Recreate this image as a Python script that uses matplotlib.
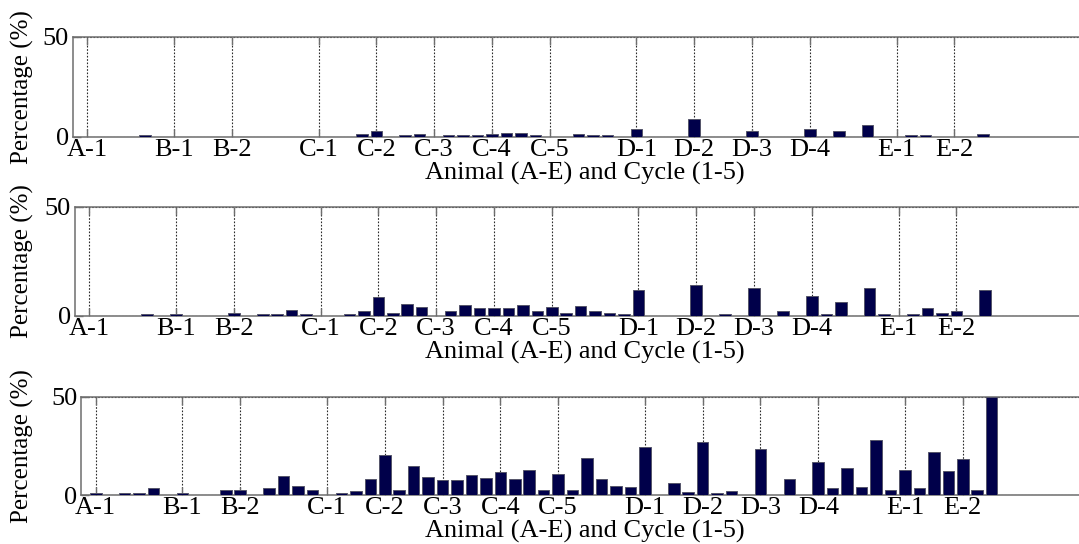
import numpy as np
import matplotlib
matplotlib.use("Agg")
import matplotlib.pyplot as plt

plt.rcParams["font.family"] = ["Liberation Serif", "DejaVu Serif"]

# Sample slots along the x axis (one bar per slot)
n_slots = 63
tick_slots = [0, 6, 10, 16, 20, 24, 28, 32, 38, 42, 46, 50, 56, 60]
tick_labels = ["A-1", "B-1", "B-2", "C-1", "C-2", "C-3", "C-4", "C-5",
               "D-1", "D-2", "D-3", "D-4", "E-1", "E-2"]

# Percentage per slot, top panel
top_vals = {4: 1.0, 19: 1.3, 20: 2.8, 22: 1.0, 23: 1.3, 25: 1.0, 26: 1.0,
            27: 1.0, 28: 1.3, 29: 1.7, 30: 1.7, 31: 1.0, 34: 1.3, 35: 1.0,
            36: 1.0, 38: 4.0, 42: 8.7, 46: 2.7, 50: 4.0, 52: 3.0, 54: 5.8,
            57: 1.0, 58: 1.0, 62: 1.3}

# Percentage per slot, middle panel
mid_vals = {4: 1.1, 6: 1.1, 10: 1.4, 12: 1.1, 13: 1.1, 14: 2.7, 15: 1.1,
            18: 1.1, 19: 2.1, 20: 8.7, 21: 1.4, 22: 5.3, 23: 4.1, 25: 2.4,
            26: 5.0, 27: 3.5, 28: 3.5, 29: 3.8, 30: 5.0, 31: 2.1, 32: 4.1,
            33: 1.4, 34: 4.7, 35: 2.1, 36: 1.4, 37: 1.1, 38: 11.7, 42: 14.2,
            44: 1.1, 46: 13.0, 48: 2.1, 50: 9.0, 51: 1.1, 52: 6.4, 54: 13.0,
            55: 1.1, 57: 1.1, 58: 3.7, 59: 1.4, 60: 2.1, 62: 11.7}

# Percentage per slot, bottom panel
bot_vals = {0: 1.2, 2: 1.2, 3: 1.2, 4: 3.4, 6: 1.2, 9: 2.4, 10: 2.7,
            12: 3.7, 13: 9.7, 14: 4.4, 15: 2.7, 17: 1.2, 18: 2.0, 19: 8.1,
            20: 20.2, 21: 2.4, 22: 14.6, 23: 9.0, 24: 7.5, 25: 7.5, 26: 10.0,
            27: 8.5, 28: 11.9, 29: 8.1, 30: 12.5, 31: 2.7, 32: 10.7, 33: 2.4,
            34: 18.8, 35: 8.0, 36: 4.6, 37: 3.9, 38: 24.6, 40: 5.9, 41: 1.5,
            42: 27.1, 43: 1.0, 44: 2.0, 46: 23.2, 48: 8.1, 50: 16.6, 51: 3.7,
            52: 13.7, 53: 4.1, 54: 27.8, 55: 2.4, 56: 12.5, 57: 3.4, 58: 21.7,
            59: 12.2, 60: 18.3, 61: 2.7, 62: 50.0}

x_label = "Animal (A-E) and Cycle (1-5)"
y_label = "Percentage (%)"

W, H = 1079, 544
slot_px = 14.45
x_lo, x_hi = -1, 70

fig = plt.figure(figsize=(W / 100, H / 100), dpi=100)

# (left, top, bottom) of each panel in pixels
panels = [(72.9, 36.7, 136.7, top_vals),
          (74.9, 206.7, 316.0, mid_vals),
          (81.3, 396.7, 495.0, bot_vals)]

bar_color = "#00004a"
axis_color = "#6e6e6e"

for left, top, bottom, vals in panels:
    ax = fig.add_axes([left / W, 1 - bottom / H,
                       (x_hi - x_lo) * slot_px / W, (bottom - top) / H])
    heights = np.zeros(n_slots)
    for k, v in vals.items():
        heights[k] = v
    xs = np.arange(n_slots)
    mask = heights > 0
    ax.bar(xs[mask], heights[mask], width=0.8, color=bar_color,
           edgecolor="#55556a", linewidth=0.7, zorder=3)

    ax.set_xlim(x_lo, x_hi)
    ax.set_ylim(0, 50)
    ax.set_xticks(tick_slots)
    ax.set_xticklabels(tick_labels)
    ax.set_yticks([0, 50])
    ax.set_axisbelow(True)
    ax.grid(True, linestyle=(0, (1.5, 1.5)), color="#2a2a2a", linewidth=0.8)

    for side in ["left", "bottom", "top", "right"]:
        ax.spines[side].set_color(axis_color)
        ax.spines[side].set_linewidth(1.1)

    ax.tick_params(axis="x", direction="in", top=True, bottom=True,
                   length=6, width=1.0, color=axis_color, pad=1.5,
                   labelsize=19, labelcolor="black")
    ax.tick_params(axis="y", direction="in", left=True, right=True,
                   length=6, width=1.0, color=axis_color, pad=3.0,
                   labelsize=19, labelcolor="black")

    ax.set_xlabel(x_label, fontsize=19, labelpad=0.5)
    ax.xaxis.label.set_x((585 - left) / ((x_hi - x_lo) * slot_px))
    ax.set_ylabel(y_label, fontsize=18)
    ax.yaxis.set_label_coords(34.5 / W, 1 - ((top + bottom) / 2) / H,
                              transform=fig.transFigure)

fig.savefig("out.png", dpi=100)
